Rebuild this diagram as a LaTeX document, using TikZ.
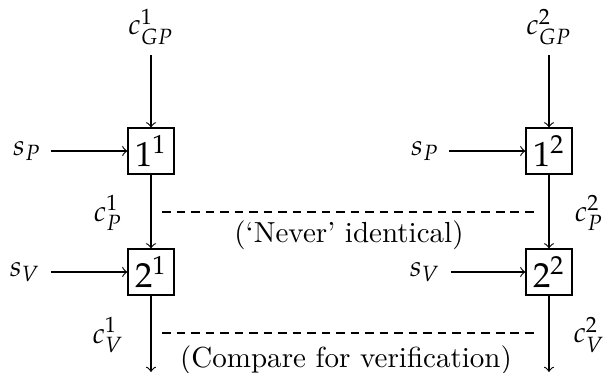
\documentclass[tikz,border=0pt]{standalone}
\usepackage{mathpazo}
\begin{document}
\begin{tikzpicture}[x=0.3445pt,y=-0.3445pt,
  blk/.style={draw,minimum size=15.8pt,inner sep=1pt,font=\large},
  lbl/.style={inner sep=3.33pt},
  dsh/.style={dash pattern=on 3pt off 2pt}]
\useasboundingbox (0,0) rectangle (606,373);
% left column
\node[lbl] (gp1) at (151,27) {$c^1_{GP}$};
\node[blk] (b11) at (151,151) {$1^1$};
\node[lbl] (sp1) at (27,151) {$s_P$};
\node[blk] (b21) at (151,272) {$2^1$};
\node[lbl] (sv1) at (25,272) {$s_V$};
\node[lbl] (cp1) at (108,213) {$c^1_P$};
\node[lbl] (cv1) at (108,335) {$c^1_V$};
\coordinate (e1) at (151,372);
% right column
\node[lbl] (gp2) at (549,27) {$c^2_{GP}$};
\node[blk] (b12) at (549,151) {$1^2$};
\node[lbl] (sp2) at (425,151) {$s_P$};
\node[blk] (b22) at (549,272) {$2^2$};
\node[lbl] (sv2) at (425,272) {$s_V$};
\node[lbl] (cp2) at (589,213) {$c^2_P$};
\node[lbl] (cv2) at (589,335) {$c^2_V$};
\coordinate (e2) at (549,372);
% arrows
\draw[->] (gp1) -- (b11);
\draw[->] (sp1) -- (b11);
\draw[->] (b11) -- (b21);
\draw[->] (sv1) -- (b21);
\draw[->] (b21) -- (e1);
\draw[->] (gp2) -- (b12);
\draw[->] (sp2) -- (b12);
\draw[->] (b12) -- (b22);
\draw[->] (sv2) -- (b22);
\draw[->] (b22) -- (e2);
% dashed comparisons
\coordinate (d1a) at (162,212);
\coordinate (d1b) at (537,212);
\coordinate (d2a) at (162,333);
\coordinate (d2b) at (537,333);
\draw[dsh] (d1a) -- (d1b);
\draw[dsh] (d2a) -- (d2b);
\node[lbl] (t1) at (349,235) {(`Never' identical)};
\node[lbl] (t2) at (346,360) {(Compare for verification)};
\end{tikzpicture}
\end{document}
